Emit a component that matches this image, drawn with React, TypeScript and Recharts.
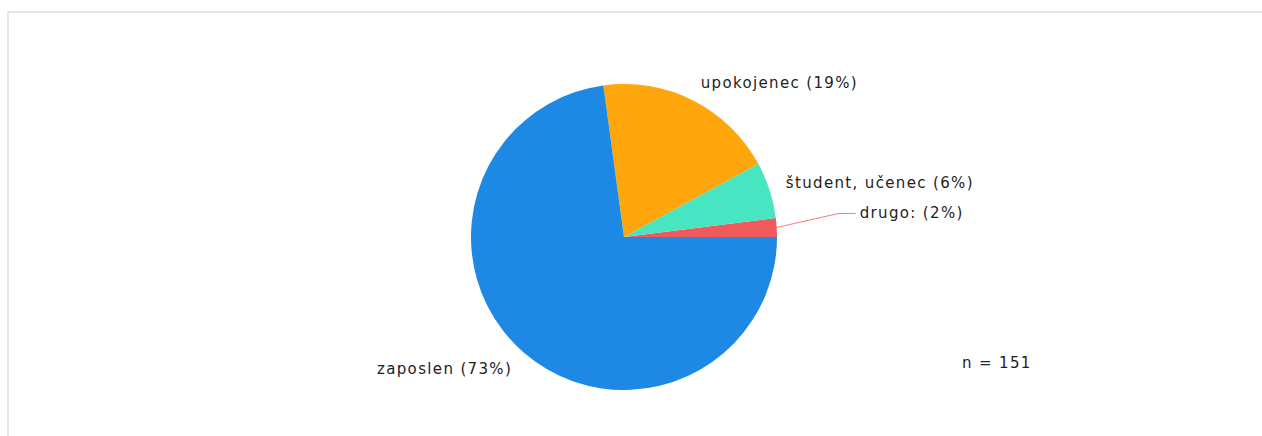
import React from 'react';
import { PieChart, Pie, Cell } from 'recharts';

const categories = ['drugo:', 'študent, učenec', 'upokojenec', 'zaposlen'];
const counts = [3, 9, 29, 110];
const colors = ['#f05a5c', '#48e5c2', '#ffa60d', '#1e88e5'];
const totalLabel = 'n = 151';

const data = categories.map((name, i) => ({ name, value: counts[i] }));

const RAD = Math.PI / 180;
const font = '"DejaVu Sans", Verdana, sans-serif';

const renderLabel = (props: any) => {
  const { cx, cy, midAngle, outerRadius, percent, name, index } = props;
  const text = `${name} (${Math.round(percent * 100)}%)`;
  const common = {
    fill: '#222',
    fontSize: 15,
    fontFamily: font,
    letterSpacing: 1.35,
    dominantBaseline: 'central' as const,
  };
  if (percent < 0.03) {
    // small slice: pulled out label with an elbow connector
    const ex = cx + outerRadius * Math.cos(midAngle * RAD);
    const ey = cy - outerRadius * Math.sin(midAngle * RAD);
    const bx = ex + 62;
    const by = ey - 14;
    const tx = bx + 17;
    return (
      <g key={`lbl-${index}`}>
        <polyline
          points={`${ex},${ey} ${bx},${by} ${tx},${by}`}
          fill="none"
          stroke={colors[index]}
          strokeOpacity={0.8}
          strokeWidth={1}
        />
        <text x={tx + 4} y={by} textAnchor="start" {...common}>
          {text}
        </text>
      </g>
    );
  }
  const r = outerRadius + 17;
  const x = cx + r * Math.cos(midAngle * RAD);
  const y = cy - r * Math.sin(midAngle * RAD);
  return (
    <text
      key={`lbl-${index}`}
      x={x}
      y={y + (y > cy ? 4 : -2)}
      textAnchor={x > cx ? 'start' : 'end'}
      {...common}
    >
      {text}
    </text>
  );
};

export default function App() {
  return (
    <div
      style={{
        position: 'absolute',
        left: 7,
        top: 11,
        width: 1255,
        height: 425,
        borderTop: '2px solid #e6e6e6',
        borderLeft: '2px solid #e6e6e6',
        boxSizing: 'border-box',
        background: '#fff',
      }}
    >
      <PieChart width={1253} height={423}>
        <Pie
          data={data}
          dataKey="value"
          nameKey="name"
          cx={610}
          cy={219}
          outerRadius={153}
          startAngle={0}
          endAngle={360}
          stroke="none"
          label={renderLabel}
          labelLine={false}
          isAnimationActive={false}
        >
          {data.map((d, i) => (
            <Cell key={d.name} fill={colors[i]} />
          ))}
        </Pie>
      </PieChart>
      <div
        style={{
          position: 'absolute',
          left: 953,
          top: 341,
          lineHeight: '18px',
          fontSize: 15,
          fontFamily: font,
          letterSpacing: 1.35,
          color: '#222',
          whiteSpace: 'nowrap',
        }}
      >
        {totalLabel}
      </div>
    </div>
  );
}
